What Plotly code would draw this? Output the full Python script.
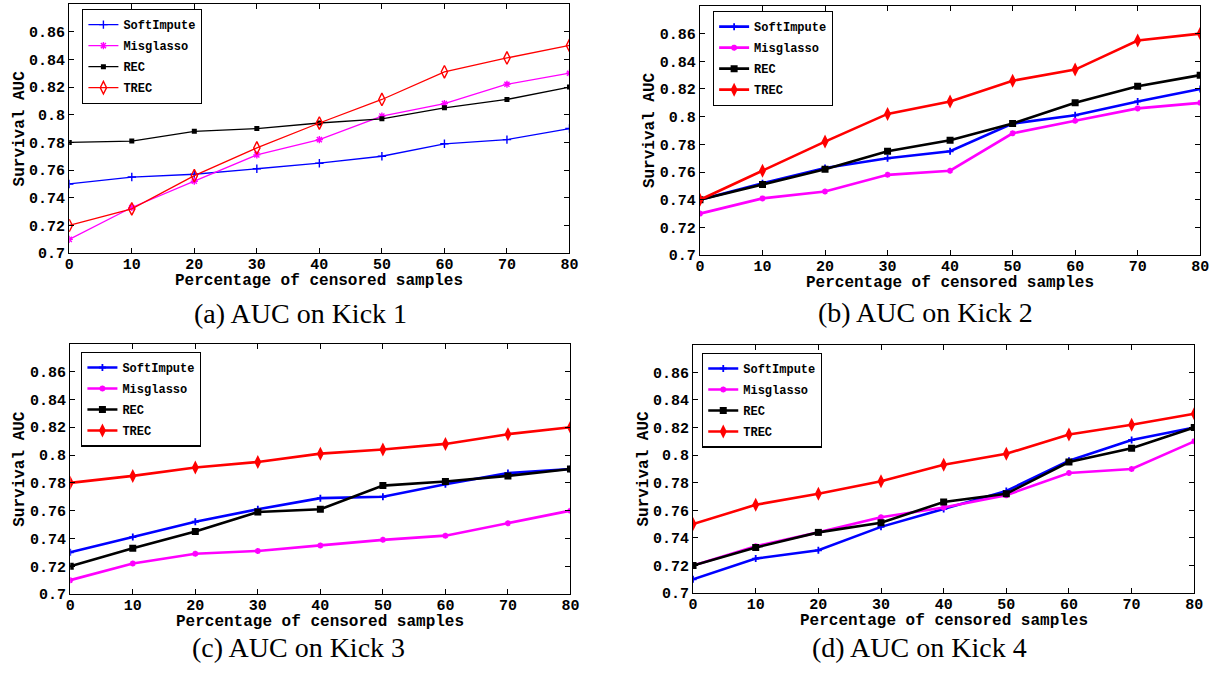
import plotly.graph_objects as go

W, H = 1226, 674

# ---------------- data ----------------
censored_pct = [0, 10, 20, 30, 40, 50, 60, 70, 80]
methods = ["SoftImpute", "Misglasso", "REC", "TREC"]

kick1_softimpute = [0.750, 0.755, 0.757, 0.761, 0.765, 0.770, 0.779, 0.782, 0.790]
kick1_misglasso = [0.710, 0.733, 0.752, 0.771, 0.782, 0.799, 0.808, 0.822, 0.830]
kick1_rec = [0.780, 0.781, 0.788, 0.790, 0.794, 0.797, 0.805, 0.811, 0.820]
kick1_trec = [0.720, 0.732, 0.756, 0.776, 0.794, 0.811, 0.831, 0.841, 0.850]

kick2_softimpute = [0.740, 0.752, 0.763, 0.770, 0.775, 0.795, 0.801, 0.811, 0.820]
kick2_misglasso = [0.730, 0.741, 0.746, 0.758, 0.761, 0.788, 0.797, 0.806, 0.810]
kick2_rec = [0.740, 0.751, 0.762, 0.775, 0.783, 0.795, 0.810, 0.822, 0.830]
kick2_trec = [0.740, 0.761, 0.782, 0.802, 0.811, 0.826, 0.834, 0.855, 0.860]

kick3_softimpute = [0.730, 0.741, 0.752, 0.761, 0.769, 0.770, 0.779, 0.787, 0.790]
kick3_misglasso = [0.710, 0.722, 0.729, 0.731, 0.735, 0.739, 0.742, 0.751, 0.760]
kick3_rec = [0.720, 0.733, 0.745, 0.759, 0.761, 0.778, 0.781, 0.785, 0.790]
kick3_trec = [0.780, 0.785, 0.791, 0.795, 0.801, 0.804, 0.808, 0.815, 0.820]

kick4_softimpute = [0.710, 0.725, 0.731, 0.748, 0.761, 0.774, 0.796, 0.811, 0.820]
kick4_misglasso = [0.720, 0.734, 0.744, 0.755, 0.762, 0.771, 0.787, 0.790, 0.810]
kick4_rec = [0.720, 0.733, 0.744, 0.751, 0.766, 0.772, 0.795, 0.805, 0.820]
kick4_trec = [0.750, 0.764, 0.772, 0.781, 0.793, 0.801, 0.815, 0.822, 0.830]

y_tickvals = [0.70, 0.72, 0.74, 0.76, 0.78, 0.80, 0.82, 0.84, 0.86]
y_ticktext = ["0.7", "0.72", "0.74", "0.76", "0.78", "0.8", "0.82", "0.84", "0.86"]
x_tickvals = [0, 10, 20, 30, 40, 50, 60, 70, 80]

captions = ["(a) AUC on Kick 1", "(b) AUC on Kick 2", "(c) AUC on Kick 3", "(d) AUC on Kick 4"]
x_title = "Percentage of censored samples"
y_title = "Survival AUC"

panels_data = [
    [kick1_softimpute, kick1_misglasso, kick1_rec, kick1_trec],
    [kick2_softimpute, kick2_misglasso, kick2_rec, kick2_trec],
    [kick3_softimpute, kick3_misglasso, kick3_rec, kick3_trec],
    [kick4_softimpute, kick4_misglasso, kick4_rec, kick4_trec],
]

# ---------------- layout geometry (pixels) ----------------
# (left, right, top, bottom)
boxes = [
    (65, 571, 4, 257),
    (703, 1209, 6, 259),
    (66, 572, 349, 603),
    (696, 1203, 350, 602),
]
legend_pos = [(78, 9), (716, 11), (77, 357), (705, 358)]
ytitle_x = [15, 652, 15, 646]
xtitle_y = [285, 287, 631, 630]
caption_pos = [(299, 318), (931, 317), (297, 657), (925, 657)]
line_widths = [1.3, 2.6, 2.6, 2.6]

colors = ["#0000ff", "#ff00ff", "#000000", "#ff0000"]

MONO = "Liberation Mono"
SERIF = "Liberation Serif"


def px_x(p):
    return p / W


def px_y(p):
    return 1 - p / H


fig = go.Figure()
annotations = []
layout_extra = {}

for i, (data, box) in enumerate(zip(panels_data, boxes)):
    n = i + 1
    xa = "x" if n == 1 else f"x{n}"
    ya = "y" if n == 1 else f"y{n}"
    lg = "legend" if n == 1 else f"legend{n}"
    lw = line_widths[i]
    thin = i == 0
    for j, (name, vals) in enumerate(zip(methods, data)):
        if j == 0:
            marker = dict(symbol="cross-thin", size=6 if thin else 5,
                          line=dict(width=1.4 if thin else 1.8, color=colors[j]), color=colors[j])
        elif j == 1:
            marker = dict(symbol="asterisk", size=6 if thin else 5,
                          line=dict(width=1.4 if thin else 1.8, color=colors[j]), color=colors[j])
        elif j == 2:
            marker = dict(symbol="square", size=5 if thin else 7, color=colors[j])
        else:
            if thin:
                marker = dict(symbol="diamond-tall-open", size=9,
                              line=dict(width=1.4, color=colors[j]), color=colors[j])
            else:
                marker = dict(symbol="diamond-tall", size=10, color=colors[j])
        fig.add_trace(go.Scatter(
            x=censored_pct, y=vals, name=name, mode="lines+markers",
            line=dict(color=colors[j], width=lw), marker=marker,
            xaxis=xa, yaxis=ya, legend=lg, legendgroup=f"p{n}_{j}",
            showlegend=True,
        ))

    l, r, t, b = box
    axis_common = dict(
        showline=True, linecolor="black", linewidth=1.3, mirror="allticks",
        ticks="inside", ticklen=5, tickwidth=1, tickcolor="black",
        showgrid=False, zeroline=False,
        tickfont=dict(family=MONO, size=15, color="black", weight="bold"),
    )
    layout_extra["xaxis" if n == 1 else f"xaxis{n}"] = dict(
        domain=[px_x(l), px_x(r)], anchor=ya, range=[0, 80],
        tickvals=x_tickvals, ticklabelstandoff=-3, **axis_common)
    layout_extra["yaxis" if n == 1 else f"yaxis{n}"] = dict(
        domain=[px_y(b), px_y(t)], anchor=xa, range=[0.7, 0.88],
        tickvals=y_tickvals, ticktext=y_ticktext, ticklabelstandoff=0, **axis_common)

    lx, ly = legend_pos[i]
    layout_extra[lg] = dict(
        x=px_x(lx), y=px_y(ly), xanchor="left", yanchor="top",
        xref="paper", yref="paper",
        bgcolor="white", bordercolor="black", borderwidth=1.3,
        font=dict(family=MONO, size=12, color="black", weight="bold"),
        tracegroupgap=2, itemwidth=30,
    )

    annotations.append(dict(
        text=x_title, x=px_x((l + r) / 2), y=px_y(xtitle_y[i]), xref="paper", yref="paper",
        showarrow=False, xanchor="center", yanchor="middle",
        font=dict(family=MONO, size=16, color="black", weight="bold")))
    annotations.append(dict(
        text=y_title, x=px_x(ytitle_x[i]), y=px_y((t + b) / 2), xref="paper", yref="paper",
        showarrow=False, xanchor="center", yanchor="middle", textangle=-90,
        font=dict(family=MONO, size=16, color="black", weight="bold")))
    cx, cy = caption_pos[i]
    annotations.append(dict(
        text=captions[i], x=px_x(cx), y=px_y(cy), xref="paper", yref="paper",
        showarrow=False, xanchor="center", yanchor="middle",
        font=dict(family=SERIF, size=28, color="black")))

fig.update_layout(
    width=W, height=H, margin=dict(l=0, r=0, t=0, b=0),
    paper_bgcolor="white", plot_bgcolor="white",
    annotations=annotations, **layout_extra,
)

fig.write_html("out.html")
